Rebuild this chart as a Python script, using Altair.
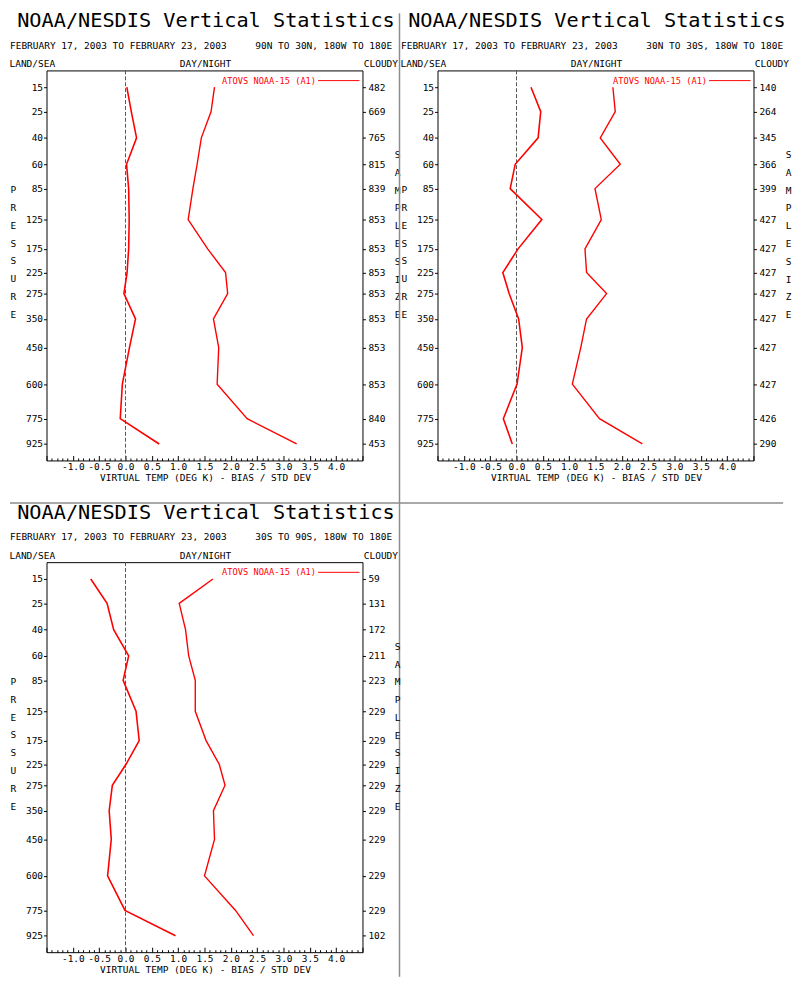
import altair as alt
import pandas as pd

# ---------------- data ----------------
pressure = [15, 25, 40, 60, 85, 125, 175, 225, 275, 350, 450, 600, 775, 925]
# the original's pressure axis is non-uniform: pixel position of each level from the plot top
level_pos = [17, 41.7, 68.3, 95, 119.7, 151, 180.7, 204.7, 226, 251.7, 280.7, 317.7, 352.7, 378.3]

bias_1 = [0.025, 0.11, 0.21, 0.02, 0.06, 0.07, 0.06, 0.03, -0.03, 0.19, 0.075, -0.06, -0.10, 0.64]
std_1 = [1.69, 1.625, 1.44, 1.36, 1.28, 1.19, 1.56, 1.90, 1.94, 1.67, 1.77, 1.74, 2.31, 3.25]
n_1 = [482, 669, 765, 815, 839, 853, 853, 853, 853, 853, 853, 853, 840, 453]

bias_2 = [0.275, 0.46, 0.41, -0.025, -0.12, 0.48, 0.03, -0.26, -0.14, 0.04, 0.11, 0.01, -0.25, -0.08]
std_2 = [1.83, 1.875, 1.59, 1.97, 1.49, 1.61, 1.30, 1.33, 1.71, 1.33, 1.22, 1.06, 1.575, 2.39]
n_2 = [140, 264, 345, 366, 399, 427, 427, 427, 427, 427, 427, 427, 426, 290]

bias_3 = [-0.66, -0.35, -0.225, 0.06, -0.045, 0.20, 0.26, 0.01, -0.25, -0.31, -0.27, -0.34, -0.01, 0.95]
std_3 = [1.66, 1.02, 1.14, 1.20, 1.325, 1.325, 1.53, 1.78, 1.89, 1.67, 1.69, 1.50, 2.09, 2.43]
n_3 = [59, 131, 172, 211, 223, 229, 229, 229, 229, 229, 229, 229, 229, 102]

region_1 = "90N TO 30N, 180W TO 180E"
region_2 = "30N TO 30S, 180W TO 180E"
region_3 = "30S TO 90S, 180W TO 180E"

TITLE = "NOAA/NESDIS Vertical Statistics"
DATES = "FEBRUARY 17, 2003 TO FEBRUARY 23, 2003"
LEFT_HDR = "LAND/SEA"
MID_HDR = "DAY/NIGHT"
RIGHT_HDR = "CLOUDY"
LEGEND = "ATOVS NOAA-15 (A1)"
X_TITLE = "VIRTUAL TEMP (DEG K) - BIAS / STD DEV"
Y_TITLE = list("PRESSURE")
Y2_TITLE = ["S", "A", "M", "P", "L", "E", " ", "S", "I", "Z", "E"]

x_major = [-1.0, -0.5, 0.0, 0.5, 1.0, 1.5, 2.0, 2.5, 3.0, 3.5, 4.0]
x_minor = [round(-1.5 + 0.1 * i, 1) for i in range(61)]

# ---------------- styling ----------------
W, H = 320, 395
FONT = "DejaVu Sans Mono"
RED = "#ff0000"
FS = 9.6


def label(text, x, y, align, size=FS, color="black", baseline="alphabetic"):
    return alt.Chart(pd.DataFrame({"t": [text]})).mark_text(
        align=align, baseline=baseline, font=FONT, fontSize=size, color=color
    ).encode(x=alt.value(x), y=alt.value(y), text="t:N")


def panel(bias, std, n, region, extras=()):
    df = pd.DataFrame({"pressure": pressure, "bias": bias, "std": std})
    xscale = alt.Scale(domain=[-1.5, 4.5], nice=False, zero=False)
    yscale = alt.Scale(domain=pressure, range=level_pos, nice=False, zero=False)

    plist = ",".join(str(p) for p in pressure)
    nlist = ",".join("'%d'" % v for v in n)
    right_expr = "[%s][indexof([%s], datum.value)]" % (nlist, plist)

    base = alt.Chart(df)

    bias_line = base.mark_line(color=RED, strokeWidth=1.6).encode(
        x=alt.X("bias:Q", scale=xscale,
                axis=alt.Axis(orient="bottom", values=x_major, ticks=False, tickSize=0,
                              domain=False, grid=False, labelPadding=9,
                              labelBaseline="alphabetic",
                              labelExpr="(datum.value < 0 ? '-' : '') + format(abs(datum.value), '.1f')",
                              title=X_TITLE, titleX=160.5, titleY=20.5,
                              titleBaseline="alphabetic", titleAlign="center")),
        y=alt.Y("pressure:Q", scale=yscale,
                axis=alt.Axis(orient="left", values=pressure, tickSize=3, labelPadding=1,
                              domain=False, grid=False, labelBaseline="middle",
                              title=Y_TITLE, titleAngle=0, titleX=-34, titleY=121,
                              titleLineHeight=18, titleAlign="center", titleBaseline="middle")),
        order=alt.Order("pressure:Q"),
    )

    std_line = base.mark_line(color=RED, strokeWidth=1.4).encode(
        x=alt.X("std:Q", scale=xscale,
                axis=alt.Axis(orient="top", offset=-H, values=x_minor, labels=False,
                              domain=False, grid=False, title=None,
                              tickSize={"condition": {"test": "abs(datum.value * 2 - round(datum.value * 2)) < 0.001",
                                                      "value": 5},
                                        "value": 2.5})),
        y=alt.Y("pressure:Q", scale=yscale,
                axis=alt.Axis(orient="right", values=pressure, tickSize=3, labelPadding=2.5,
                              domain=False, grid=False, labelBaseline="middle",
                              labelExpr=right_expr,
                              title=Y2_TITLE, titleAngle=0, titleX=35, titleY=85.3,
                              titleLineHeight=18, titleAlign="center", titleBaseline="middle")),
        order=alt.Order("pressure:Q"),
    )

    zero_rule = alt.Chart(pd.DataFrame({"x": [0.0]})).mark_rule(
        color="#555555", strokeDash=[4, 2], strokeWidth=1
    ).encode(x=alt.X("x:Q", scale=xscale, axis=None))

    legend_rule = alt.Chart(pd.DataFrame({"a": [0]})).mark_rule(color=RED, strokeWidth=1).encode(
        x=alt.value(275), x2=alt.value(317), y=alt.value(10.3))
    legend_text = label(LEGEND, 273, 10.5, "right", size=8.8, color=RED, baseline="middle")

    headers = [
        label(TITLE, 161.5, -44, "center", size=20.5),
        label(DATES, -37, -22, "left"),
        label(region, 350, -22, "right"),
        label(LEFT_HDR, -37.5, -3.7, "left"),
        label(MID_HDR, 161, -3.7, "center"),
        label(RIGHT_HDR, 356, -3.7, "right"),
    ]

    layers = [zero_rule, bias_line, std_line, legend_rule, legend_text] + headers + list(extras)
    return alt.layer(*layers).resolve_scale(x="shared", y="shared").resolve_axis(
        x="independent", y="independent").properties(width=W, height=H)


SEP = "#8c8c8c"
h_sep = alt.Chart(pd.DataFrame({"a": [0]})).mark_rule(color=SEP, strokeWidth=1.5).encode(
    x=alt.value(-37), x2=alt.value(746), y=alt.value(438))
v_sep = alt.Chart(pd.DataFrame({"a": [0]})).mark_rule(color=SEP, strokeWidth=1.5).encode(
    x=alt.value(-38.5), y=alt.value(-58), y2=alt.value(918))

p1 = panel(bias_1, std_1, n_1, region_1, extras=[h_sep])
p2 = panel(bias_2, std_2, n_2, region_2, extras=[v_sep])
p3 = panel(bias_3, std_3, n_3, region_3)

chart = alt.concat(p1, p2, p3, columns=2, spacing={"row": 103, "column": 76},
                   bounds="flush").properties(
    padding={"top": -4, "left": 0, "right": 0, "bottom": 0}
).configure_view(
    stroke="black", strokeWidth=1
).configure_axis(
    labelFont=FONT, labelFontSize=FS, labelColor="black", tickColor="black", tickWidth=1,
    titleFont=FONT, titleFontSize=FS, titleFontWeight="normal", titleColor="black",
)

chart.save("out.html", embed_options={"renderer": "svg", "actions": False})
